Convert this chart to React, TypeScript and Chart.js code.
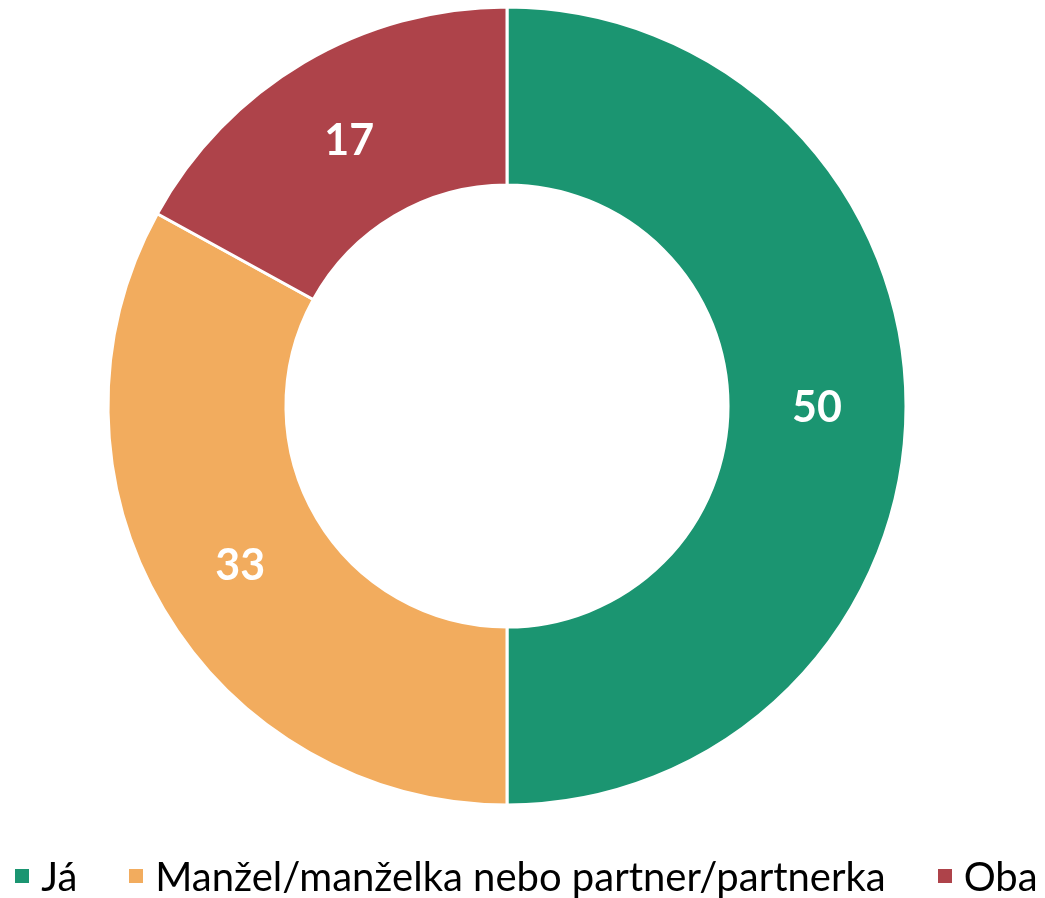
import React, { useEffect, useRef } from "react";
import { Chart, registerables } from "chart.js";

Chart.register(...registerables);

const categories = ["Já", "Manžel/manželka nebo partner/partnerka", "Oba"];
const values = [50, 33, 17];
const colors = ["#1b9571", "#f2ac5e", "#ae434a"];

const labelPlugin = {
  id: "sliceLabels",
  afterDatasetsDraw(chart: any) {
    const ctx = chart.ctx;
    const meta = chart.getDatasetMeta(0);
    ctx.save();
    ctx.fillStyle = "#ffffff";
    ctx.font = "bold 43px Lato, 'Open Sans', sans-serif";
    ctx.textAlign = "center";
    ctx.textBaseline = "middle";
    meta.data.forEach((arc: any, i: number) => {
      const p = arc.tooltipPosition();
      ctx.fillText(String(values[i]), p.x, p.y + 2);
    });
    ctx.restore();
  },
};

export default function App() {
  const ref = useRef<HTMLCanvasElement>(null);
  useEffect(() => {
    if (!ref.current) return;
    const chart = new Chart(ref.current, {
      type: "doughnut",
      data: {
        labels: categories,
        datasets: [
          {
            data: values,
            backgroundColor: colors,
            borderColor: "#ffffff",
            borderWidth: 3,
          },
        ],
      },
      options: {
        animation: false,
        responsive: false,
        cutout: "55.4%",
        layout: { padding: { top: 5.5, bottom: 5.5, left: 0, right: 31 } },
        plugins: {
          legend: { display: false },
          tooltip: { enabled: false },
        },
      },
      plugins: [labelPlugin],
    });
    return () => chart.destroy();
  }, []);

  return (
    <div style={{ position: "fixed", left: 0, top: 0, width: 1045, height: 898, background: "#fff" }}>
      <canvas ref={ref} width={1045} height={812} style={{ display: "block" }} />
      <div
        style={{
          position: "absolute",
          left: 4,
          top: 852,
          width: 1045,
          height: 48,
          display: "flex",
          justifyContent: "center",
          alignItems: "center",
          gap: 52,
          fontFamily: "Lato, 'Open Sans', sans-serif",
          fontSize: 40,
          color: "#000",
          whiteSpace: "nowrap",
        }}
      >
        {categories.map((c, i) => (
          <div key={c} style={{ display: "flex", alignItems: "center", gap: 12 }}>
            <span style={{ width: 14, height: 14, background: colors[i], display: "inline-block" }} />
            <span>{c}</span>
          </div>
        ))}
      </div>
    </div>
  );
}
